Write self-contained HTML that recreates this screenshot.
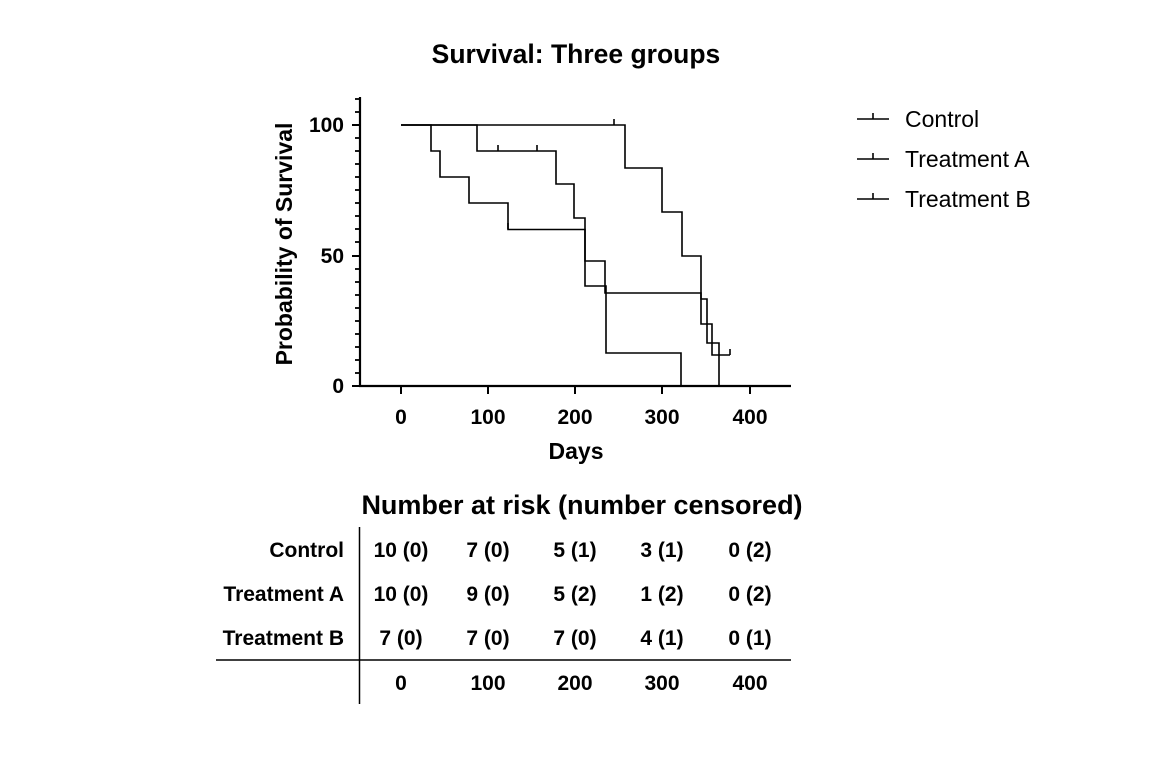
<!DOCTYPE html>
<html><head><meta charset="utf-8"><style>
body{margin:0;background:#fff;}
svg text{font-family:"Liberation Sans",Arial,sans-serif;fill:#000;}
</style></head><body>
<svg width="1159" height="770" viewBox="0 0 1159 770" xmlns="http://www.w3.org/2000/svg">
<text x="576" y="63" text-anchor="middle" font-size="26.5" font-weight="bold">Survival: Three groups</text>
<g stroke="#000" stroke-width="2.2" fill="none">
<line x1="360" y1="97" x2="360" y2="387"/>
<line x1="359" y1="386" x2="791" y2="386"/>
<g stroke-width="2">
<line x1="352" y1="125" x2="360" y2="125"/><line x1="352" y1="256" x2="360" y2="256"/><line x1="352" y1="386" x2="360" y2="386"/>
</g>
<g stroke-width="1.8">
<line x1="355" y1="99" x2="360" y2="99"/><line x1="355" y1="112" x2="360" y2="112"/><line x1="355" y1="138" x2="360" y2="138"/><line x1="355" y1="151" x2="360" y2="151"/><line x1="355" y1="164" x2="360" y2="164"/><line x1="355" y1="177" x2="360" y2="177"/><line x1="355" y1="190" x2="360" y2="190"/><line x1="355" y1="203" x2="360" y2="203"/><line x1="355" y1="216" x2="360" y2="216"/><line x1="355" y1="229" x2="360" y2="229"/><line x1="355" y1="242" x2="360" y2="242"/><line x1="355" y1="269" x2="360" y2="269"/><line x1="355" y1="282" x2="360" y2="282"/><line x1="355" y1="295" x2="360" y2="295"/><line x1="355" y1="308" x2="360" y2="308"/><line x1="355" y1="321" x2="360" y2="321"/><line x1="355" y1="334" x2="360" y2="334"/><line x1="355" y1="347" x2="360" y2="347"/><line x1="355" y1="360" x2="360" y2="360"/><line x1="355" y1="373" x2="360" y2="373"/>
</g>
<g stroke-width="2">
<line x1="401" y1="386" x2="401" y2="394"/><line x1="488" y1="386" x2="488" y2="394"/><line x1="575" y1="386" x2="575" y2="394"/><line x1="662" y1="386" x2="662" y2="394"/><line x1="750" y1="386" x2="750" y2="394"/>
</g>
</g>
<g font-size="21" font-weight="bold" text-anchor="end">
<text x="344" y="132">100</text><text x="344" y="263">50</text><text x="344" y="393">0</text>
</g>
<g font-size="21" font-weight="bold" text-anchor="middle">
<text x="401" y="424">0</text><text x="488" y="424">100</text><text x="575" y="424">200</text><text x="662" y="424">300</text><text x="750" y="424">400</text>
<text x="576" y="459" font-size="23">Days</text>
</g>
<text transform="translate(292,244) rotate(-90)" text-anchor="middle" font-size="23" font-weight="bold">Probability of Survival</text>
<g stroke="#000" stroke-width="1.6" fill="none">
<polyline points="401,125 431,125 431,151 440,151 440,177 469,177 469,203 508,203 508,229.5 585,229.5 585,286 606,286 606,353 681,353 681,386"/>
<line x1="508" y1="223" x2="508" y2="229"/>
<polyline points="401,125 477,125 477,151 556,151 556,184 574,184 574,218 585,218 585,261 605,261 605,293 701,293 701,324 712,324 712,355 730,355"/>
<line x1="498" y1="145" x2="498" y2="151"/><line x1="537" y1="145" x2="537" y2="151"/><line x1="730" y1="349" x2="730" y2="355"/>
<polyline points="401,125 625,125 625,168 662,168 662,212 682,212 682,256 701,256 701,299 707,299 707,343 719,343 719,386"/>
<line x1="614" y1="119" x2="614" y2="125"/>
</g>
<g stroke="#000" stroke-width="1.6">
<line x1="857" y1="119" x2="889" y2="119"/><line x1="873" y1="113" x2="873" y2="119"/>
<line x1="857" y1="159" x2="889" y2="159"/><line x1="873" y1="153" x2="873" y2="159"/>
<line x1="857" y1="199" x2="889" y2="199"/><line x1="873" y1="193" x2="873" y2="199"/>
</g>
<g font-size="23">
<text x="905" y="127">Control</text><text x="905" y="167">Treatment A</text><text x="905" y="207">Treatment B</text>
</g>
<text x="582" y="514" text-anchor="middle" font-size="27" font-weight="bold">Number at risk (number censored)</text>
<g stroke="#000" stroke-width="1.5">
<line x1="359.5" y1="527" x2="359.5" y2="704"/>
<line x1="216" y1="660" x2="791" y2="660"/>
</g>
<g font-size="21" font-weight="bold" text-anchor="end">
<text x="344" y="557">Control</text><text x="344" y="601">Treatment A</text><text x="344" y="645">Treatment B</text>
</g>
<g font-size="21" font-weight="bold" text-anchor="middle">
<text x="401" y="557">10 (0)</text><text x="488" y="557">7 (0)</text><text x="575" y="557">5 (1)</text><text x="662" y="557">3 (1)</text><text x="750" y="557">0 (2)</text>
<text x="401" y="601">10 (0)</text><text x="488" y="601">9 (0)</text><text x="575" y="601">5 (2)</text><text x="662" y="601">1 (2)</text><text x="750" y="601">0 (2)</text>
<text x="401" y="645">7 (0)</text><text x="488" y="645">7 (0)</text><text x="575" y="645">7 (0)</text><text x="662" y="645">4 (1)</text><text x="750" y="645">0 (1)</text>
<text x="401" y="690">0</text><text x="488" y="690">100</text><text x="575" y="690">200</text><text x="662" y="690">300</text><text x="750" y="690">400</text>
</g>
</svg>
</body></html>
